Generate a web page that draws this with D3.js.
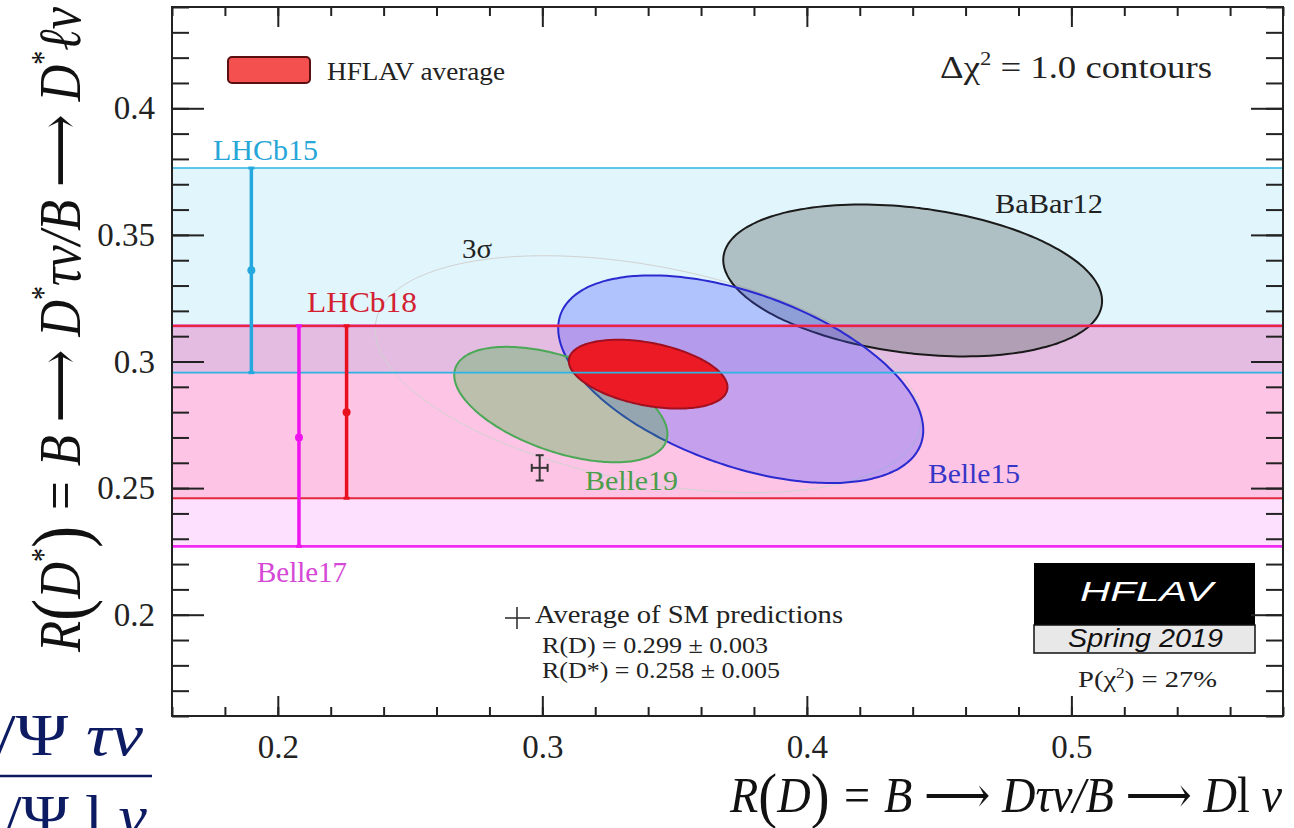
<!DOCTYPE html>
<html>
<head>
<meta charset="utf-8">
<script src="https://cdn.jsdelivr.net/npm/d3@7"></script>
<style>
	html, body { margin: 0; padding: 0; background: #fff; }
	svg { display: block; font-family: 'Liberation Serif', 'DejaVu Serif', serif; }
</style>
</head>
<body>
<svg id="chart" width="1294" height="828"></svg>
<script>
// axis ticks
const xMajor = [0.2, 0.3, 0.4, 0.5]
const xTickLabels = ['0.2', '0.3', '0.4', '0.5']
const yMajor = [0.2, 0.25, 0.3, 0.35, 0.4]
const yTickLabels = ['0.2', '0.25', '0.3', '0.35', '0.4']

// R(D*) only measurements (drawn as bands)
const bandNames = ['LHCb15', 'Belle17', 'LHCb18']
const bandValue = [0.336, 0.270, 0.280]
const bandLow = [0.2956, 0.227, 0.246]
const bandHigh = [0.3764, 0.3141, 0.3141]
const bandPos = [0.190, 0.208, 0.226]   // R(D) position of the error bar

// 2D measurements: R(D), R(D*), errors, correlation
const ellNames = ['BaBar12', 'Belle15', 'Belle19', 'HFLAV average']
const ellRD = [0.440, 0.375, 0.307, 0.340]
const ellRDErr = [0.0716, 0.0690, 0.0403, 0.0300]
const ellRDs = [0.332, 0.293, 0.283, 0.295]
const ellRDsErr = [0.0300, 0.0410, 0.0228, 0.0136]
const ellRho = [-0.27, -0.49, -0.51, -0.38]

// SM average
const smRD = 0.299, smRDErr = 0.003
const smRDs = 0.258, smRDsErr = 0.005

const chi2One = 1.0
const chi2ThreeSigma = 11.83

const bandStyle = {
	LHCb15: { fill: 'rgba(0,176,230,0.12)', line: '#2db4e2', bar: '#25a8de', text: '#27a6d8', lw: 1.6 },
	Belle17: { fill: 'rgba(240,0,240,0.12)', line: '#f02cf0', bar: '#ee14ee', text: '#d548d5', lw: 2.8 },
	LHCb18: { fill: 'rgba(255,0,60,0.12)', line: '#e4283a', bar: '#e8101e', text: '#d42030', lw: 2.2 }
}
const ellStyle = {
	'BaBar12': { fill: 'rgba(105,118,120,0.42)', stroke: '#1a1a1a', text: '#222' },
	'Belle15': { fill: 'rgba(70,80,255,0.30)', stroke: '#2a2ad0', text: '#3535c8' },
	'Belle19': { fill: 'rgba(40,180,40,0.30)', stroke: '#4aa856', text: '#4a9d4a' },
	'HFLAV average': { fill: '#ec1a24', stroke: '#a01020', text: '#222' }
}

const serif = "'Liberation Serif', 'DejaVu Serif', serif"
const sans = "'Liberation Sans', Arial, sans-serif"

const frame = { left: 172, right: 1283, top: 7, bottom: 716 }

const x = d3.scaleLinear().domain([0.16, 0.58]).range([frame.left, frame.right])
const y = d3.scaleLinear().domain([0.16, 0.44]).range([frame.bottom, frame.top])

const svg = d3.select('#chart')

svg.append('defs').append('clipPath')
	.attr('id', 'plot-clip')
	.append('rect')
		.attr('x', frame.left).attr('y', frame.top)
		.attr('width', frame.right - frame.left)
		.attr('height', frame.bottom - frame.top)

const plot = svg.append('g').attr('clip-path', 'url(#plot-clip)')

// bands
plot.selectAll('.band')
	.data(bandNames)
	.enter().append('rect')
		.attr('class', 'band')
		.attr('x', frame.left)
		.attr('width', frame.right - frame.left)
		.attr('y', (d, i) => y(bandHigh[i]))
		.attr('height', (d, i) => y(bandLow[i]) - y(bandHigh[i]))
		.attr('fill', (d) => bandStyle[d].fill)

// contours
const contour = (i, k) => d3.range(0, 360, 2).map((deg) => {
	const t = deg * Math.PI / 180
	const r = Math.sqrt(k)
	return [
		x(ellRD[i] + r * ellRDErr[i] * Math.cos(t)),
		y(ellRDs[i] + r * ellRDsErr[i] * (ellRho[i] * Math.cos(t) + Math.sqrt(1 - ellRho[i] * ellRho[i]) * Math.sin(t)))
	]
})
const line = d3.line().curve(d3.curveCardinalClosed)

const avg = ellNames.indexOf('HFLAV average')
plot.append('path')
	.attr('d', line(contour(avg, chi2ThreeSigma)))
	.attr('fill', 'none')
	.attr('stroke', '#d2d2d2')
	.attr('stroke-width', 1)

plot.selectAll('.contour')
	.data(ellNames)
	.enter().append('path')
		.attr('class', 'contour')
		.attr('d', (d, i) => line(contour(i, chi2One)))
		.attr('fill', (d) => ellStyle[d].fill)
		.attr('stroke', (d) => ellStyle[d].stroke)
		.attr('stroke-width', 2)

// band edges on top
bandNames.forEach((name, i) => {
	const s = bandStyle[name]
	plot.selectAll('.edge-' + i)
		.data([bandLow[i], bandHigh[i]])
		.enter().append('line')
			.attr('x1', frame.left).attr('x2', frame.right)
			.attr('y1', (d) => y(d)).attr('y2', (d) => y(d))
			.attr('stroke', s.line)
			.attr('stroke-width', s.lw)
})

// error bars of the bands
const bars = plot.selectAll('.bar')
	.data(bandNames)
	.enter().append('g')
		.attr('class', 'bar')
		.attr('stroke', (d) => bandStyle[d].bar)
		.attr('fill', (d) => bandStyle[d].bar)
bars.append('line')
	.attr('x1', (d, i) => x(bandPos[i])).attr('x2', (d, i) => x(bandPos[i]))
	.attr('y1', (d, i) => y(bandLow[i])).attr('y2', (d, i) => y(bandHigh[i]))
	.attr('stroke-width', 3.5)
bars.append('circle')
	.attr('cx', (d, i) => x(bandPos[i]))
	.attr('cy', (d, i) => y(bandValue[i]))
	.attr('r', 4)
	.attr('stroke', 'none')
bars.selectAll('.cap')
	.data((d, i) => [bandLow[i], bandHigh[i]].map((v) => [bandPos[i], v]))
	.enter().append('line')
		.attr('x1', (d) => x(d[0]) - 3).attr('x2', (d) => x(d[0]) + 3)
		.attr('y1', (d) => y(d[1])).attr('y2', (d) => y(d[1]))
		.attr('stroke-width', 3)

// SM prediction cross
const sm = plot.append('g').attr('stroke', '#333').attr('stroke-width', 2)
sm.append('line')
	.attr('x1', x(smRD - smRDErr)).attr('x2', x(smRD + smRDErr))
	.attr('y1', y(smRDs)).attr('y2', y(smRDs))
sm.append('line')
	.attr('x1', x(smRD)).attr('x2', x(smRD))
	.attr('y1', y(smRDs - smRDsErr)).attr('y2', y(smRDs + smRDsErr))
sm.selectAll('.capx')
	.data([smRD - smRDErr, smRD + smRDErr])
	.enter().append('line')
		.attr('x1', (d) => x(d)).attr('x2', (d) => x(d))
		.attr('y1', y(smRDs) - 4).attr('y2', y(smRDs) + 4)
sm.selectAll('.capy')
	.data([smRDs - smRDsErr, smRDs + smRDsErr])
	.enter().append('line')
		.attr('x1', x(smRD) - 4).attr('x2', x(smRD) + 4)
		.attr('y1', (d) => y(d)).attr('y2', (d) => y(d))

// labels
const label = (txt, px, py, size, len, color) => svg.append('text')
	.attr('x', px).attr('y', py)
	.attr('font-size', size)
	.attr('textLength', len)
	.attr('lengthAdjust', 'spacingAndGlyphs')
	.attr('fill', color)
	.text(txt)

label('LHCb15', 213, 160, 29, 105, bandStyle.LHCb15.text)
label('LHCb18', 307, 312, 29, 110, bandStyle.LHCb18.text)
label('Belle17', 257, 582, 29, 90, bandStyle.Belle17.text)
label('BaBar12', 995, 213, 28, 108, ellStyle.BaBar12.text)
label('Belle15', 928, 483, 28, 92, ellStyle.Belle15.text)
label('Belle19', 585, 490, 28, 93, ellStyle.Belle19.text)
label('3σ', 462, 258, 27, 30, '#222')

// legend
svg.append('rect')
	.attr('x', 228).attr('y', 57)
	.attr('width', 82).attr('height', 26)
	.attr('rx', 4)
	.attr('fill', '#f45050')
	.attr('stroke', '#5a1010')
	.attr('stroke-width', 2)
label('HFLAV average', 327, 80, 26, 178, '#222')

const chiText = svg.append('text')
	.attr('x', 940).attr('y', 78)
	.attr('font-size', 31)
	.attr('textLength', 272)
	.attr('lengthAdjust', 'spacingAndGlyphs')
	.attr('fill', '#222')
chiText.append('tspan').text('Δχ')
chiText.append('tspan').attr('font-size', 19).attr('dy', -13).text('2')
chiText.append('tspan').attr('dy', 13).text(' = 1.0 contours')

// SM legend
const smLeg = svg.append('g').attr('stroke', '#333').attr('stroke-width', 1.6)
smLeg.append('line').attr('x1', 505).attr('x2', 530).attr('y1', 618).attr('y2', 618)
smLeg.append('line').attr('x1', 517).attr('x2', 517).attr('y1', 607).attr('y2', 629)
label('Average of SM predictions', 535, 623, 25, 308, '#222')
label('R(D) = 0.299 ± 0.003', 542, 653, 23, 226, '#222')
label('R(D*) = 0.258 ± 0.005', 542, 678, 23, 238, '#222')

// HFLAV logo
svg.append('rect')
	.attr('x', 1034).attr('y', 563).attr('width', 221).attr('height', 62)
	.attr('fill', '#000')
svg.append('rect')
	.attr('x', 1034).attr('y', 625).attr('width', 221).attr('height', 28)
	.attr('fill', '#e8e8e8').attr('stroke', '#111').attr('stroke-width', 1.5)
label('HFLAV', 1080, 601, 28, 133, '#fff')
	.style('font-family', sans)
	.style('font-style', 'italic')
label('Spring 2019', 1068, 647, 25, 155, '#111')
	.style('font-family', sans)
	.style('font-style', 'italic')

const pText = svg.append('text')
	.attr('x', 1078).attr('y', 687)
	.attr('font-size', 23)
	.attr('textLength', 139)
	.attr('lengthAdjust', 'spacingAndGlyphs')
	.attr('fill', '#222')
pText.append('tspan').text('P(χ')
pText.append('tspan').attr('font-size', 14).attr('dy', -9).text('2')
pText.append('tspan').attr('dy', 9).text(') = 27%')

// axes
const tickStyle = (g) => {
	g.select('.domain').remove()
	g.selectAll('.tick line').attr('stroke', '#222').attr('stroke-width', 2)
	g.selectAll('.tick text').attr('font-size', 33).attr('fill', '#222')
		.attr('font-family', serif)
}
const xMinor = d3.range(8, 30).map((v) => v * 0.02)
const yMinor = d3.range(16, 45).map((v) => v * 0.01)

svg.append('g').attr('transform', `translate(0,${frame.bottom})`)
	.call(d3.axisBottom(x).tickValues(xMinor).tickSize(-9).tickFormat(''))
	.call(tickStyle)
svg.append('g').attr('transform', `translate(0,${frame.bottom})`)
	.call(d3.axisBottom(x).tickValues(xMajor).tickSize(-20).tickPadding(19)
		.tickFormat((d, i) => xTickLabels[i]))
	.call(tickStyle)
svg.append('g').attr('transform', `translate(0,${frame.top})`)
	.call(d3.axisTop(x).tickValues(xMinor).tickSize(-9).tickFormat(''))
	.call(tickStyle)
svg.append('g').attr('transform', `translate(0,${frame.top})`)
	.call(d3.axisTop(x).tickValues(xMajor).tickSize(-20).tickFormat(''))
	.call(tickStyle)

svg.append('g').attr('transform', `translate(${frame.left},0)`)
	.call(d3.axisLeft(y).tickValues(yMinor).tickSize(-17).tickFormat(''))
	.call(tickStyle)
svg.append('g').attr('transform', `translate(${frame.left},0)`)
	.call(d3.axisLeft(y).tickValues(yMajor).tickSize(-32).tickPadding(17)
		.tickFormat((d, i) => yTickLabels[i]))
	.call(tickStyle)
svg.append('g').attr('transform', `translate(${frame.right},0)`)
	.call(d3.axisRight(y).tickValues(yMinor).tickSize(-17).tickFormat(''))
	.call(tickStyle)
svg.append('g').attr('transform', `translate(${frame.right},0)`)
	.call(d3.axisRight(y).tickValues(yMajor).tickSize(-32).tickFormat(''))
	.call(tickStyle)

svg.append('rect')
	.attr('x', frame.left).attr('y', frame.top)
	.attr('width', frame.right - frame.left)
	.attr('height', frame.bottom - frame.top)
	.attr('fill', 'none')
	.attr('stroke', '#222')
	.attr('stroke-width', 2)

// equation axis titles
const eq = (parts, transform, size, len, color) => {
	const t = svg.append('text')
		.attr('transform', transform)
		.attr('font-size', size)
		.attr('fill', color)
	if (len) t.attr('textLength', len).attr('lengthAdjust', 'spacingAndGlyphs')
	parts.forEach((p) => {
		t.append('tspan')
			.attr('font-style', p.up ? 'normal' : 'italic')
			.attr('font-size', p.s ? size * p.s : null)
			.attr('dy', p.dy || null)
			.text(p.t)
	})
	return t
}

eq([
	{ t: 'R' }, { t: '(', up: 1, s: 1.3, dy: 6 }, { t: 'D', dy: -6 }, { t: '*', up: 1, s: 0.55, dy: -26 },
	{ t: ')', up: 1, s: 1.3, dy: 32 }, { t: ' = B ⟶ D', dy: -6 }, { t: '*', up: 1, s: 0.55, dy: -26 },
	{ t: 'τν/B ⟶ D', dy: 26 }, { t: '*', up: 1, s: 0.55, dy: -26 }, { t: 'ℓν', dy: 26 }
], 'translate(80,652) rotate(-90)', 60, 645, '#111')

eq([
	{ t: 'R' }, { t: '(', up: 1, s: 1.22, dy: 4 }, { t: 'D', dy: -4 }, { t: ')', up: 1, s: 1.22, dy: 4 },
	{ t: ' = B ⟶ Dτν/B ⟶ D', dy: -4 }, { t: 'l', up: 1 }, { t: ' ν' }
], 'translate(730,812)', 50, 552, '#111')

// fragment of a neighbouring formula, cut by the slide edge
eq([{ t: '/Ψ ', up: 1 }, { t: 'τν' }], 'translate(-4,755)', 60, 147, '#0d1b63')
svg.append('line')
	.attr('x1', 0).attr('x2', 152).attr('y1', 776).attr('y2', 776)
	.attr('stroke', '#0d1b63').attr('stroke-width', 2.5)
eq([{ t: '/Ψ l ', up: 1 }, { t: 'ν' }], 'translate(4,836)', 60, 143, '#0d1b63')
</script>
</body>
</html>
